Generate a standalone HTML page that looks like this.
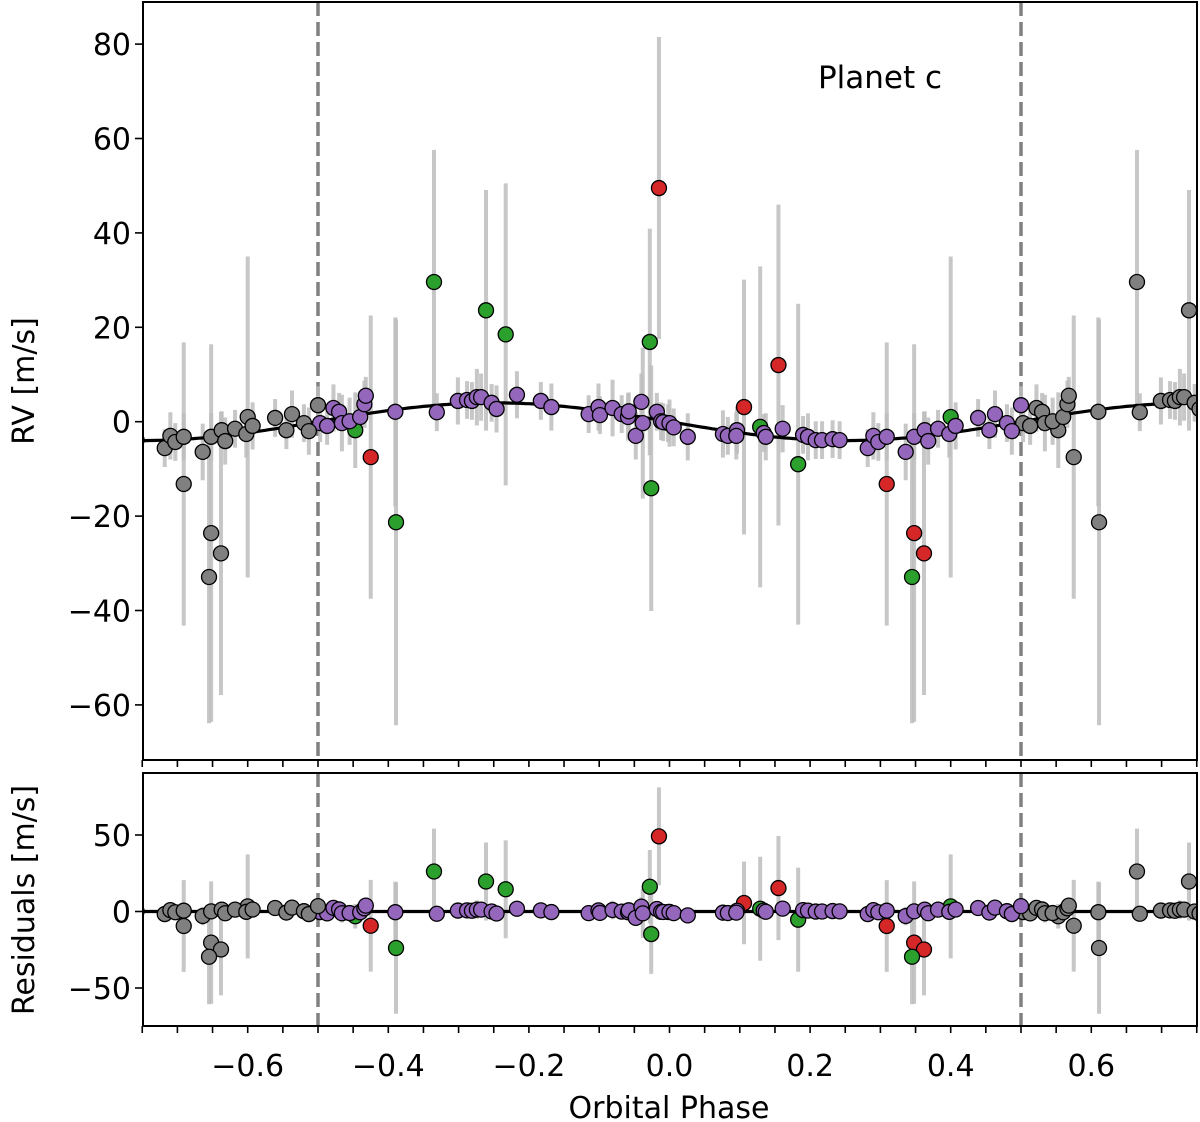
<!DOCTYPE html>
<html><head><meta charset="utf-8"><style>
body{margin:0;background:#fff;}
svg{display:block;font-family:"DejaVu Sans","Liberation Sans",sans-serif;}
</style></head><body>
<svg id="chart" width="1200" height="1122" viewBox="0 0 1200 1122">
<defs>
<clipPath id="clipTop"><rect x="143" y="2" width="1054" height="758"/></clipPath>
<clipPath id="clipBot"><rect x="143" y="773" width="1054" height="253"/></clipPath>
</defs>
<g id="top"></g>
<g id="bot"></g>
<text x="880" y="88" font-size="31" text-anchor="middle">Planet c</text>
<text transform="translate(34,381) rotate(-90)" font-size="30" text-anchor="middle">RV [m/s]</text>
<text transform="translate(34,900) rotate(-90)" font-size="30" text-anchor="middle">Residuals [m/s]</text>
<text x="669" y="1118" font-size="30" text-anchor="middle">Orbital Phase</text>
</svg>
<script>
// ---- data ----
const phases = [-0.447,-0.335,-0.261,-0.233,-0.028,-0.026,-0.389,-0.015,-0.425,0.106,0.155,0.129,0.183,0.309,0.348,0.362,0.345,0.400,
-0.497,-0.487,-0.478,-0.470,-0.466,-0.455,-0.440,-0.434,-0.432,-0.390,-0.331,-0.301,-0.288,-0.281,-0.274,-0.268,-0.253,-0.246,-0.217,-0.183,-0.168,-0.115,-0.101,-0.099,-0.081,-0.068,-0.059,-0.058,-0.048,-0.040,-0.038,-0.018,-0.012,-0.002,
-0.009,0.000,0.006,0.026,0.076,0.083,0.096,0.095,0.134,0.137,0.161,0.190,0.197,0.208,0.217,0.232,0.242,0.282,0.290,0.297,0.309,0.336,0.348,0.363,0.368,0.382,0.398,0.407,0.439,0.455,0.463,0.480,0.487,0.500];
const rvValues = [-1.8,29.6,23.6,18.5,16.9,-14.1,-21.3,49.5,-7.5,3.1,12.0,-1.1,-9.0,-13.2,-23.6,-27.9,-32.9,1.0,
-0.3,-0.9,2.9,2.1,-0.3,0.1,1.0,3.7,5.5,2.1,2.0,4.4,4.6,4.4,5.2,5.2,4.0,2.7,5.7,4.4,3.1,1.6,3.1,1.4,2.9,1.6,1.0,2.2,-3.0,4.2,-0.3,2.1,0.1,-0.3,
-0.1,-0.3,-1.2,-3.2,-2.6,-3.0,-1.8,-3.0,-2.4,-3.2,-1.5,-2.8,-3.2,-3.9,-3.9,-3.7,-3.9,-5.6,-3.0,-4.3,-3.2,-6.4,-3.2,-1.8,-4.1,-1.5,-2.6,-0.9,0.8,-1.8,1.6,-0.3,-2.0,3.5];
const rvErrors = [8,28,25.5,32,24,26,43,32,30,27,34,34,34,30,40,30,31,34,
4,4,5,4,6,5,4,5,4,20,4,5,4,4,6,5,4,5,5,4,5,4,5,4,6,4,5,4,5,6,16,4,4,4,
4,5,4,5,5,4,5,5,4,5,5,4,5,4,4,4,4,4,5,4,5,6,5,4,5,4,5,5,4,4,5,4,5,4];
const instruments = ['g','g','g','g','g','g','g','r','r','r','r','g','g','r','r','r','g','g',
'p','p','p','p','p','p','p','p','p','p','p','p','p','p','p','p','p','p','p','p','p','p','p','p','p','p','p','p','p','p','p','p','p','p',
'p','p','p','p','p','p','p','p','p','p','p','p','p','p','p','p','p','p','p','p','p','p','p','p','p','p','p','p','p','p','p','p','p','p'];
const modelAmplitude = 4.0;
const xTickLabels = [-0.6,-0.4,-0.2,0.0,0.2,0.4,0.6];
const topYTicks = [80,60,40,20,0,-20,-40,-60];
const botYTicks = [50,0,-50];

// ---- axes ----
const X0=143, X1=1197;
const xs = p => 669.5 + p*703;
const yTop = v => 421.7 - v*4.72;
const yBot = v => 911.5 - v*1.53;
const model = p => -modelAmplitude*Math.sin(2*Math.PI*p);
const colors = {p:'#9467bd', g:'#2ca02c', r:'#d62728', k:'#808080'};
const NS='http://www.w3.org/2000/svg';
function mk(tag, attrs, parent){const e=document.createElementNS(NS,tag);for(const k in attrs)e.setAttribute(k,attrs[k]);parent.appendChild(e);return e;}
function fmt(v){const s=Math.abs(v).toFixed(1);return (v<0?'\u2212':'')+s;}

function panel(g, yf, top, bottom, clip, resid, yticks){
  const data = mk('g',{'clip-path':'url(#'+clip+')'},g);
  
  
  [-0.5,0.5].forEach(p=>{
    const l=mk('line',{x1:xs(p),x2:xs(p),y1:top,y2:bottom,stroke:'#808080','stroke-width':3.5,'stroke-dasharray':'14,6'},data);
    
    
  });
  const pts=[];
  for(let i=0;i<phases.length;i++){
    const v = resid ? rvValues[i]-model(phases[i]) : rvValues[i];
    pts.push({p:phases[i],v:v,e:rvErrors[i],c:colors[instruments[i]]});
    [1,-1].forEach(s=>{const q=phases[i]+s; if(q>=-0.76&&q<=0.76) pts.push({p:q,v:v,e:rvErrors[i],c:colors.k});});
  }
  pts.forEach(d=>{
    const b=mk('line',{x1:xs(d.p),x2:xs(d.p),y1:yf(d.v+d.e),y2:yf(d.v-d.e),stroke:'#bdbdbd','stroke-width':4,'stroke-opacity':0.85},data);
    
    
  });
  let dstr='';
  for(let k=0;k<=300;k++){const p=-0.75+1.5*k/300;const v=resid?0:model(p);dstr+=(k?'L':'M')+xs(p).toFixed(1)+','+yf(v).toFixed(1);}
  const m=mk('path',{d:dstr,fill:'none',stroke:'#000','stroke-width':3.2},data);
  
  
  pts.forEach(d=>{
    const c=mk('circle',{cx:xs(d.p),cy:yf(d.v),r:7.5,fill:d.c,stroke:'#000','stroke-width':1.3},data);
    
    
  });
  const f=mk('rect',{x:X0,y:top,width:X1-X0,height:bottom-top,fill:'none',stroke:'#000','stroke-width':2},g);
  
  
  for(let k=-15;k<=15;k++){const p=k*0.05;
    const t=mk('line',{x1:xs(p),x2:xs(p),y1:bottom,y2:bottom+7,stroke:'#000','stroke-width':1.6},g);
    
    
  }
  yticks.forEach(v=>{
    const t=mk('line',{x1:X0-8,x2:X0,y1:yf(v),y2:yf(v),stroke:'#000','stroke-width':1.6},g);
    
    
    const tx=mk('text',{x:X0-12,y:yf(v)+11,'font-size':30,'text-anchor':'end'},g);
    tx.textContent=(v<0?'\u2212':'')+Math.abs(v);
    
    
  });
}
panel(document.getElementById('top'), yTop, 2, 760, 'clipTop', false, topYTicks);
const bot=document.getElementById('bot');
panel(bot, yBot, 773, 1026, 'clipBot', true, botYTicks);
xTickLabels.forEach(p=>{
  const tx=mk('text',{x:xs(p),y:1076,'font-size':30,'text-anchor':'middle'},bot);
  tx.textContent=fmt(p);
  
  
});
</script>
</body></html>
